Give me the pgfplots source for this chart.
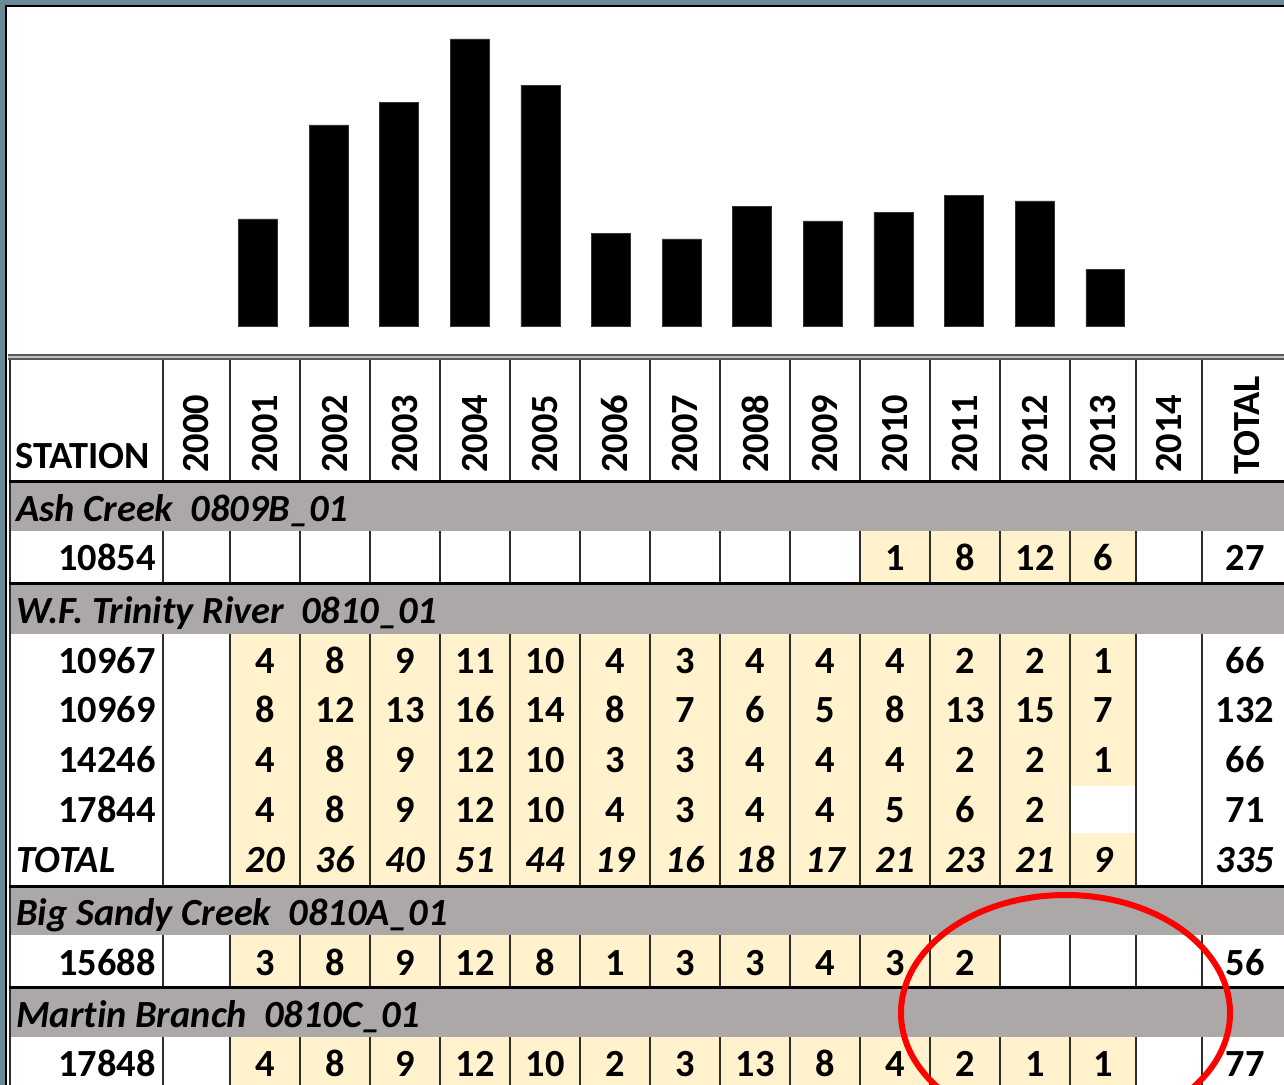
\documentclass[border=0pt]{standalone}
\usepackage{fontspec}
\setmainfont{Carlito}[Ligatures=NoCommon]
\usepackage{pgfplots}
\pgfplotsset{compat=1.18}
\definecolor{frameblue}{RGB}{106,138,151}
\definecolor{cream}{RGB}{255,242,204}
\definecolor{rowgray}{RGB}{172,168,168}
\definecolor{linegray}{RGB}{45,45,45}
\newcommand{\tf}{\fontsize{19.2}{22}\selectfont\bfseries}
\newcommand{\tfi}{\fontsize{19.2}{22}\selectfont\bfseries\itshape}
\newcommand{\datarow}[3]{%
  \foreach \v [count=\i] in {#2} {%
    \pgfmathsetmacro{\cx}{\i<13 ? 265+70*(\i-1) : 1103}%
    \node[anchor=base, inner sep=0pt, font=#3] at (\cx,#1) {\v};}}
\begin{document}
\begin{tikzpicture}
\useasboundingbox (0,0) rectangle (642pt,-542.5pt);
\clip (0,0) rectangle (642pt,-542.5pt);
\begin{scope}[x=0.5pt,y=-0.5pt]
% frame
\fill[frameblue] (0,0) rectangle (1290,1090);
\fill[black] (5,5) rectangle (1290,1090);
\fill[white] (7,7) rectangle (1290,1090);
% gray group rows
\fill[rowgray] (10,483) rectangle (1290,531);
\fill[rowgray] (10,585) rectangle (1290,634);
\fill[rowgray] (10,888) rectangle (1290,935);
\fill[rowgray] (10,989) rectangle (1290,1037);
% cream cells
\fill[cream] (860,531) rectangle (1136,582);
\fill[cream] (230,634) rectangle (1136,885);
\fill[white] (1071,786) rectangle (1135,833);
\fill[cream] (230,935) rectangle (1000,986);
\fill[cream] (230,1037) rectangle (1136,1090);
% vertical lines
\foreach \xx in {163,230,300,370,440,510,580,650,720,790,860,930,1000,1070,1136,1202} {
  \draw[linegray, line width=1pt] (\xx,359) -- (\xx,481);
  \draw[linegray, line width=1pt] (\xx,531) -- (\xx,582);
  \draw[linegray, line width=1pt] (\xx,634) -- (\xx,885);
  \draw[linegray, line width=1pt] (\xx,935) -- (\xx,986);
  \draw[linegray, line width=1pt] (\xx,1037) -- (\xx,1090);
}
\draw[linegray, line width=1pt] (9.7,355) -- (9.7,1090);
% thick horizontal lines
\foreach \yy in {481.5,583.5,886.5,987.5} {
  \draw[black, line width=1.5pt] (9,\yy) -- (1290,\yy);
}
% double top line
\fill[black!25] (8,354) rectangle (1290,360);
\draw[black!65, line width=1pt] (8,355) -- (1290,355);
\draw[black!65, line width=0.8pt] (8,359.2) -- (1290,359.2);
% header
\node[anchor=base west, inner sep=0pt, font=\tf] at (15,468) {STATION};
\foreach \yr/\cx in {2000/196.5,2001/265,2002/335,2003/405,2004/475,2005/545,2006/615,2007/685,2008/755,2009/825,2010/895,2011/965,2012/1035,2013/1103,2014/1169} {
  \node[rotate=90, anchor=west, inner sep=0pt, font=\tf] at (\cx,473) {\yr};
}
\node[rotate=90, anchor=west, inner sep=0pt, font=\tf] at (1247,475) {TOTAL};
% group labels
\node[anchor=base west, inner sep=0pt, font=\tfi] at (16,521) {Ash Creek~~0809B\_01};
\node[anchor=base west, inner sep=0pt, font=\tfi] at (16,623) {W.F. Trinity River~~0810\_01};
\node[anchor=base west, inner sep=0pt, font=\tfi] at (16,925) {Big Sandy Creek~~0810A\_01};
\node[anchor=base west, inner sep=0pt, font=\tfi] at (16,1027) {Martin Branch~~0810C\_01};
% station labels
\foreach \st/\by in {10854/570,10967/673,10969/722,14246/772,17844/822.5,15688/975,17848/1076.5} {
  \node[anchor=base east, inner sep=0pt, font=\tf] at (156,\by) {\st};
}
\node[anchor=base west, inner sep=0pt, font=\tfi] at (16,872) {TOTAL};
% values
\foreach \cx/\v in {895/1,965/8,1035/12,1103/6} {
  \node[anchor=base, inner sep=0pt, font=\tf] at (\cx,570) {\v};
}
\datarow{673}{4,8,9,11,10,4,3,4,4,4,2,2,1}{\tf}
\datarow{722}{8,12,13,16,14,8,7,6,5,8,13,15,7}{\tf}
\datarow{772}{4,8,9,12,10,3,3,4,4,4,2,2,1}{\tf}
\datarow{822.5}{4,8,9,12,10,4,3,4,4,5,6,2}{\tf}
\datarow{872}{20,36,40,51,44,19,16,18,17,21,23,21,9}{\tfi}
\datarow{975}{3,8,9,12,8,1,3,3,4,3,2}{\tf}
\datarow{1076.5}{4,8,9,12,10,2,3,13,8,4,2,1,1}{\tf}
% totals
\foreach \by/\v in {570/27,673/66,722/132,772/66,822.5/71,975/56,1076.5/77} {
  \node[anchor=base, inner sep=0pt, font=\tf] at (1245,\by) {\v};
}
\node[anchor=base, inner sep=0pt, font=\tfi] at (1245,872) {335};
% red ellipse
\draw[red, line width=3pt] (1065.5,1013) ellipse [x radius=164.5, y radius=118];
\end{scope}
% bar chart
\begin{axis}[
  at={(111.35pt,-163.35pt)}, anchor=south west,
  scale only axis, width=458.9pt, height=153.45pt,
  xmin=2000.5, xmax=2013.5, ymin=0, ymax=80,
  hide axis, ybar, bar width=0.55, clip=false]
\addplot[fill=black, draw=black!80, line width=0.3pt] coordinates {
  (2001,28.1) (2002,52.6) (2003,58.4) (2004,75.0) (2005,63.0)
  (2006,24.4) (2007,22.9) (2008,31.3) (2009,27.6) (2010,29.7)
  (2011,34.3) (2012,32.8) (2013,15.0)};
\end{axis}
\end{tikzpicture}
\end{document}
